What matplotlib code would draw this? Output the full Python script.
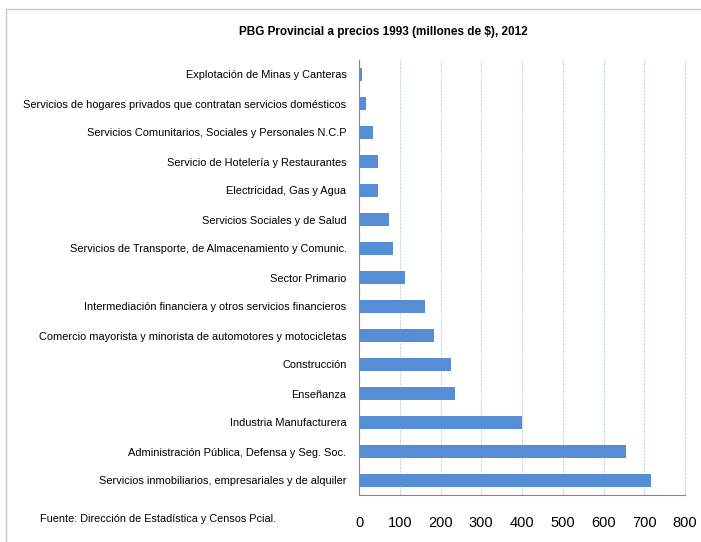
import matplotlib
matplotlib.use("Agg")
import matplotlib.pyplot as plt
from matplotlib.patches import Rectangle

plt.rcParams["font.family"] = ["Liberation Sans", "DejaVu Sans"]

SECTORS = [
    "Servicios inmobiliarios, empresariales y de alquiler",
    "Administración Pública, Defensa y Seg. Soc.",
    "Industria Manufacturera",
    "Enseñanza",
    "Construcción",
    "Comercio mayorista y minorista de automotores y motocicletas",
    "Intermediación financiera y otros servicios financieros",
    "Sector Primario",
    "Servicios de Transporte, de Almacenamiento y Comunic.",
    "Servicios Sociales y de Salud",
    "Electricidad, Gas y Agua",
    "Servicio de Hotelería y Restaurantes",
    "Servicios Comunitarios, Sociales y Personales N.C.P",
    "Servicios de hogares privados que contratan servicios domésticos",
    "Explotación de Minas y Canteras",
]
VALUES = [716, 654, 399, 236, 226, 183, 161, 114, 83, 74, 47, 46, 35, 16, 7]
XTICKS = [0, 100, 200, 300, 400, 500, 600, 700, 800]

BAR_COLOR = "#558ed5"
GRID_COLOR = "#c5d5ee"

fig = plt.figure(figsize=(7.01, 5.42), dpi=100)
ax = fig.add_axes([359 / 701, 1 - 495 / 542, (685 - 359) / 701, (495 - 60) / 542])

ax.barh(range(len(SECTORS)), VALUES, height=0.45, color=BAR_COLOR, zorder=3)

ax.set_xlim(0, 800)
ax.set_ylim(-0.5, len(SECTORS) - 0.5)
ax.set_xticks(XTICKS)
ax.set_xticklabels([str(t) for t in XTICKS], fontsize=10.5)
ax.set_yticks(range(len(SECTORS)))
ax.set_yticklabels(SECTORS, fontsize=7.9)
ax.tick_params(axis="x", length=0, pad=15)
ax.tick_params(axis="y", length=0, pad=9)

ax.grid(axis="x", color=GRID_COLOR, linestyle=(0, (2, 1)), linewidth=0.8, zorder=0)
ax.axvline(XTICKS[-1], color=GRID_COLOR, linestyle=(0, (2, 1)), linewidth=0.8,
           zorder=0, clip_on=False)
for side in ("top", "right"):
    ax.spines[side].set_visible(False)
ax.spines["left"].set_color("#868686")
ax.spines["bottom"].set_color("#868686")

fig.text(383 / 701, 1 - 32 / 542, "PBG Provincial a precios 1993 (millones de $), 2012",
         ha="center", va="center", fontsize=8.5, fontweight="bold")
fig.text(40 / 701, 1 - 519 / 542, "Fuente: Dirección de Estadística y Censos Pcial.",
         ha="left", va="center", fontsize=7.8)

fig.patches.append(Rectangle((6 / 701, -0.05), 1.0, 1 - 9 / 542 + 0.05,
                             transform=fig.transFigure, fill=False,
                             edgecolor="#c8c8c8", linewidth=1))

fig.savefig("out.png", dpi=100)
